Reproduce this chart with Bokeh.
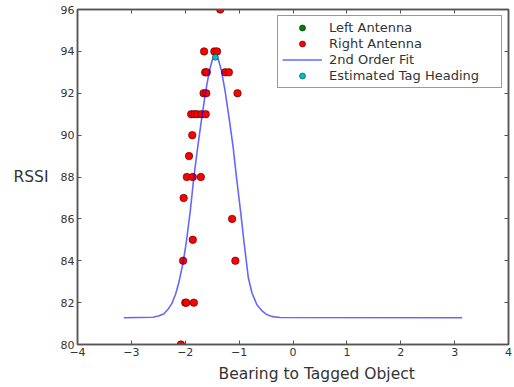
from bokeh.plotting import figure
from bokeh.models import (LinearAxis, Range1d, FixedTicker, Legend, LegendItem, Title)
from bokeh.embed import file_html
from bokeh.resources import INLINE

# ---- data ----
left_x = []
left_y = []

right_x = [-1.35, -1.65, -1.46, -1.41, -1.63, -1.60, -1.26, -1.19, -1.66, -1.61, -1.03,
           -1.89, -1.83, -1.78, -1.70, -1.62, -1.87, -1.93, -1.97, -1.86, -1.71, -2.03,
           -1.13, -1.86, -2.04, -1.07, -2.00, -1.98, -1.84, -2.08]
right_y = [96, 94, 94, 94, 93, 93, 93, 93, 92, 92, 92,
           91, 91, 91, 91, 91, 90, 89, 88, 88, 88, 87,
           86, 85, 84, 84, 82, 82, 82, 80]

fit_x = [-3.14, -2.60, -2.50, -2.40, -2.32, -2.25, -2.18, -2.12, -2.04, -1.98, -1.91,
         -1.84, -1.77, -1.70, -1.62, -1.55, -1.49, -1.44, -1.39, -1.33, -1.26, -1.18,
         -1.11, -1.05, -0.97, -0.91, -0.83, -0.76, -0.67, -0.58, -0.50, -0.42, -0.35,
         -0.24, 3.14]
fit_y = [81.28, 81.30, 81.36, 81.46, 81.68, 81.95, 82.40, 82.95, 83.90, 84.90, 86.30,
         88.00, 89.40, 90.70, 92.10, 93.10, 93.65, 93.80, 93.65, 93.10, 92.10, 90.70,
         89.40, 88.00, 86.30, 84.90, 83.20, 82.45, 81.90, 81.62, 81.45, 81.36, 81.32,
         81.29, 81.28]

heading_x = [-1.44]
heading_y = [93.72]

x_ticks = [-4, -3, -2, -1, 0, 1, 2, 3, 4]
y_ticks = [80, 82, 84, 86, 88, 90, 92, 94, 96]

FONT = "DejaVu Sans"
FRAME = "#555555"
TEXT = "#333333"

p = figure(width=514, height=387, output_backend="svg", toolbar_location=None,
           x_range=Range1d(-4, 4), y_range=Range1d(80, 96),
           min_border_left=77, min_border_right=6, min_border_top=9,
           min_border_bottom=43)
p.xgrid.visible = False
p.ygrid.visible = False
p.outline_line_color = FRAME
p.outline_line_width = 1.5
p.background_fill_color = "white"

def style_axis(ax, labels=True):
    ax.axis_line_color = FRAME
    ax.axis_line_width = 1.5
    ax.major_tick_in = 4
    ax.major_tick_out = 0
    ax.major_tick_line_color = FRAME
    ax.minor_tick_line_color = None
    if labels:
        ax.major_label_text_font = FONT
        ax.major_label_text_font_size = "11px"
        ax.major_label_text_color = TEXT
        ax.major_label_standoff = 3
    else:
        ax.major_label_text_alpha = 0
        ax.major_label_text_font_size = "1px"
        ax.major_label_standoff = 0

p.xaxis.ticker = FixedTicker(ticks=x_ticks)
p.yaxis.ticker = FixedTicker(ticks=y_ticks)
style_axis(p.xaxis[0])
style_axis(p.yaxis[0])

p.yaxis.axis_label = "RSSI"
p.yaxis.axis_label_orientation = "horizontal"
p.yaxis.axis_label_standoff = 9
p.yaxis.axis_label_text_font = FONT
p.yaxis.axis_label_text_font_size = "15.5px"
p.yaxis.axis_label_text_font_style = "normal"
p.yaxis.axis_label_text_color = TEXT

top = LinearAxis(ticker=FixedTicker(ticks=x_ticks))
style_axis(top, labels=False)
p.add_layout(top, "above")
right = LinearAxis(ticker=FixedTicker(ticks=y_ticks))
style_axis(right, labels=False)
p.add_layout(right, "right")

p.add_layout(Title(text="Bearing to Tagged Object", align="left", offset=141,
                   text_font=FONT, text_font_size="15.5px", text_font_style="normal",
                   text_color=TEXT, standoff=8), "below")

r_right = p.scatter(right_x, right_y, size=7.5, fill_color="#ff0000",
                    line_color="#400000", line_width=0.6)
r_fit = p.line(fit_x, fit_y, line_color="#0000ff", line_alpha=0.6, line_width=1.6)
r_head = p.scatter(heading_x, heading_y, size=6, fill_color="#00bfbf",
                   line_color="#004040", line_width=0.6)
r_left = p.scatter(left_x, left_y, size=7.5, fill_color="#008000",
                   line_color="#002000", line_width=0.6)
# legend swatch for the (empty) left-antenna series; this renderer is never drawn
r_left_key = p.scatter(heading_x, heading_y, size=7.5, fill_color="#008000",
                       line_color="#002000", line_width=0.6, visible=False)

legend = Legend(items=[
    LegendItem(label="Left Antenna", renderers=[r_left, r_left_key]),
    LegendItem(label="Right Antenna", renderers=[r_right]),
    LegendItem(label="2nd Order Fit", renderers=[r_fit]),
    LegendItem(label="Estimated Tag Heading", renderers=[r_head]),
])
legend.location = "top_right"
legend.margin = 6
legend.padding = 4
legend.spacing = 1
legend.label_height = 15
legend.glyph_height = 15
legend.glyph_width = 40
legend.label_width = 168
legend.label_standoff = 7
legend.label_text_font = FONT
legend.label_text_font_size = "13px"
legend.label_text_color = TEXT
legend.border_line_color = "#333333"
legend.border_line_width = 1
legend.background_fill_color = "white"
legend.background_fill_alpha = 1
p.add_layout(legend, "center")

open("out.html", "w").write(file_html(p, INLINE))
